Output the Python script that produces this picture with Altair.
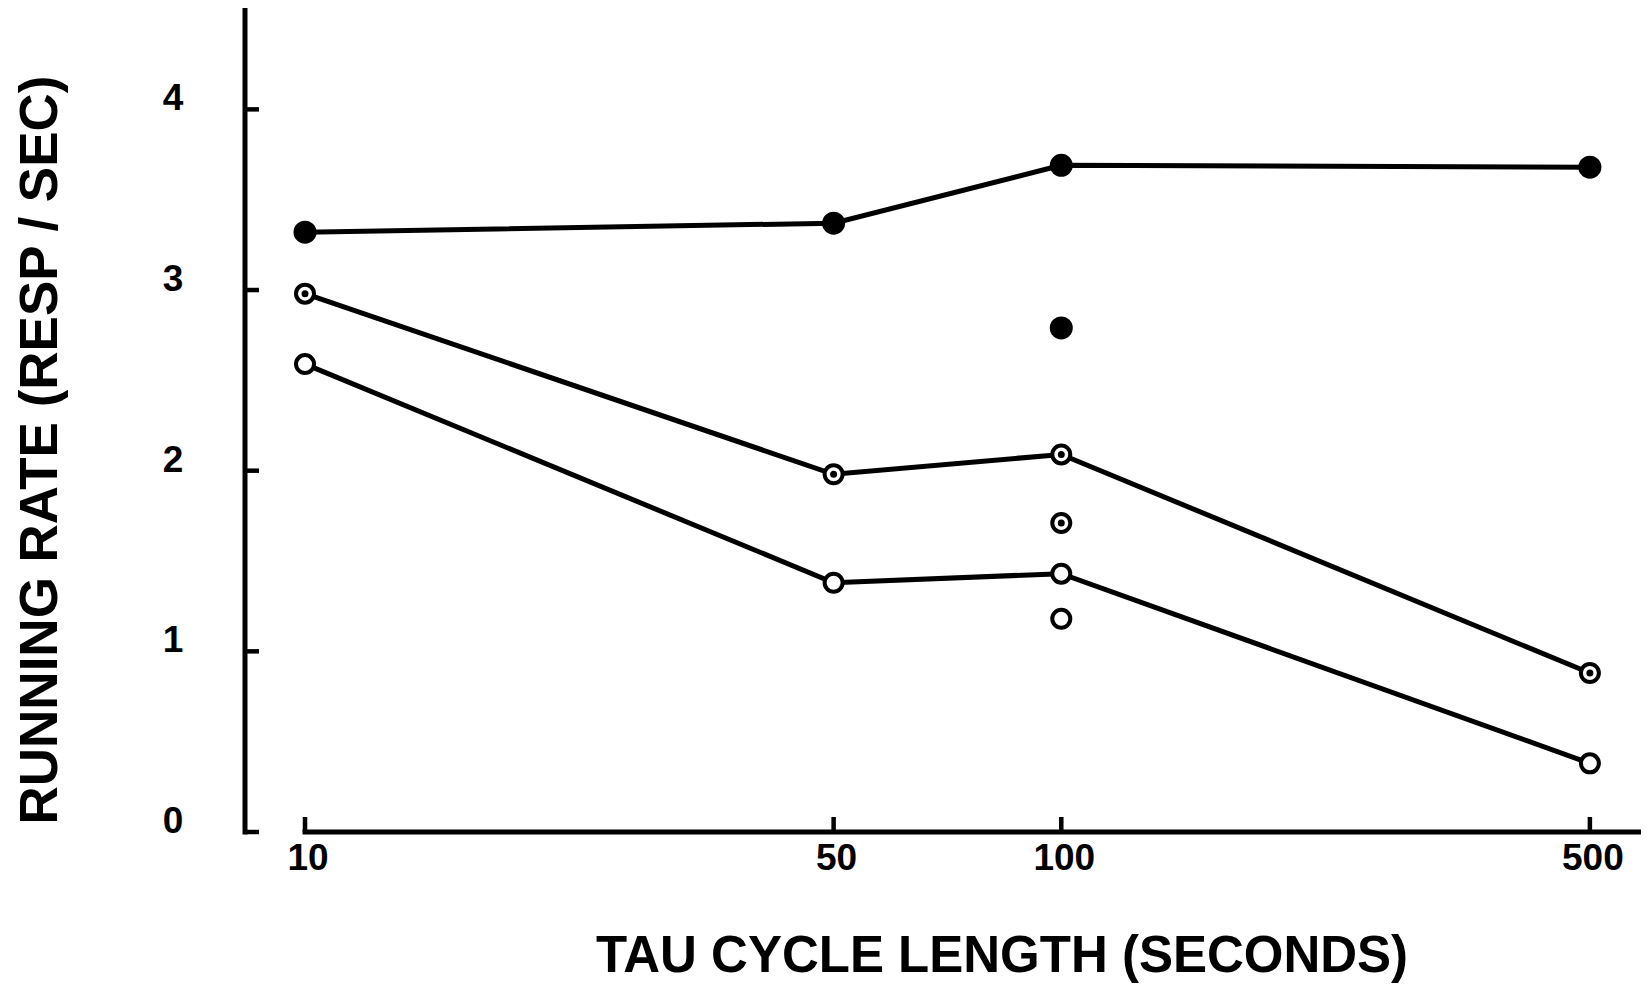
import altair as alt
import pandas as pd

# ---- data ----
x_vals = [10, 50, 100, 500]
filled_vals = [3.32, 3.37, 3.69, 3.68]
dotted_vals = [2.98, 1.98, 2.09, 0.88]
open_vals = [2.59, 1.38, 1.43, 0.38]
extra_x = [100, 100, 100]
extra_vals = [2.79, 1.71, 1.18]
extra_series = ["filled", "dotted", "open"]
y_ticks = [0, 1, 2, 3, 4]
x_ticks = [10, 50, 100, 500]
x_title = "TAU CYCLE LENGTH (SECONDS)"
y_title = "RUNNING RATE (RESP / SEC)"

W, H = 1396, 822
FONT = "Liberation Sans"

rows = []
for s, vals in [("filled", filled_vals), ("dotted", dotted_vals), ("open", open_vals)]:
    for x, v in zip(x_vals, vals):
        rows.append({"tau": x, "rate": v, "series": s})
lines_df = pd.DataFrame(rows)
extra_df = pd.DataFrame({"tau": extra_x, "rate": extra_vals, "series": extra_series})
points_df = pd.concat([lines_df, extra_df], ignore_index=True)

xs = alt.Scale(type="log", domain=[8.33, 584.2], nice=False)
ys = alt.Scale(domain=[0, 4.55], nice=False, zero=False)

X = alt.X("tau:Q", scale=xs, axis=None)
Y = alt.Y("rate:Q", scale=ys, axis=None)

lines = alt.Chart(lines_df).mark_line(color="black", strokeWidth=5).encode(
    x=X, y=Y, detail="series:N"
)

filled_pts = alt.Chart(points_df).transform_filter(
    alt.datum.series == "filled"
).mark_point(shape="circle", filled=True, color="black", size=529, opacity=1).encode(x=X, y=Y)

ring_pts = alt.Chart(points_df).transform_filter(
    alt.datum.series != "filled"
).mark_point(shape="circle", filled=True, fill="white", stroke="black",
             strokeWidth=4, size=324, opacity=1).encode(x=X, y=Y)

dot_pts = alt.Chart(points_df).transform_filter(
    alt.datum.series == "dotted"
).mark_point(shape="circle", filled=True, color="black", size=49, opacity=1).encode(x=X, y=Y)

# ---- axes drawn by hand ----
one = pd.DataFrame({"tau": [x_ticks[0]], "rate": [y_ticks[0]]})
ytick_df = pd.DataFrame({"rate": y_ticks})
xtick_df = pd.DataFrame({"tau": x_ticks})

y_axis_line = alt.Chart(one).mark_rule(color="black", strokeWidth=5, strokeCap="square").encode(
    x=alt.value(0), y=alt.Y("rate:Q", scale=ys, axis=None), y2=alt.value(0)
)
y_tick_marks = alt.Chart(ytick_df).mark_rule(color="black", strokeWidth=4.5).encode(
    y=alt.Y("rate:Q", scale=ys, axis=None), x=alt.value(0), x2=alt.value(14)
)
y_tick_labels = alt.Chart(ytick_df).mark_text(
    font=FONT, fontSize=37, fontWeight="bold", align="center", baseline="middle", dy=-10, color="black"
).encode(y=alt.Y("rate:Q", scale=ys, axis=None), x=alt.value(-72), text=alt.Text("rate:Q", format="d"))

x_axis_line = alt.Chart(one).mark_rule(color="black", strokeWidth=5, strokeCap="square").encode(
    x=alt.X("tau:Q", scale=xs, axis=None), x2=alt.value(W), y=alt.value(H)
)
x_tick_marks = alt.Chart(xtick_df).mark_rule(color="black", strokeWidth=4.5).encode(
    x=alt.X("tau:Q", scale=xs, axis=None), y=alt.value(H), y2=alt.value(H - 15)
)
x_tick_labels = alt.Chart(xtick_df).mark_text(
    font=FONT, fontSize=37, fontWeight="bold", align="center", baseline="middle", dx=3, color="black"
).encode(x=alt.X("tau:Q", scale=xs, axis=None), y=alt.value(H + 27), text=alt.Text("tau:Q", format="d"))

y_title_mark = alt.Chart(one).mark_text(
    text=y_title, font=FONT, fontSize=53, fontWeight="bold", angle=270,
    align="center", baseline="middle", color="black"
).encode(x=alt.value(-204), y=alt.value(440))

x_title_mark = alt.Chart(one).mark_text(
    text=x_title, font=FONT, fontSize=51, fontWeight="bold",
    align="center", baseline="middle", color="black"
).encode(x=alt.value(757), y=alt.value(947))

chart = alt.layer(
    y_axis_line, y_tick_marks, y_tick_labels,
    x_axis_line, x_tick_marks, x_tick_labels,
    y_title_mark, x_title_mark,
    lines, filled_pts, ring_pts, dot_pts,
).properties(
    width=W, height=H,
    autosize=alt.AutoSizeParams(type="none"),
    padding={"left": 237, "top": 2, "right": 0, "bottom": 151},
    background="white",
).configure_view(stroke=None)

chart.save("out.html", embed_options={"renderer": "svg", "actions": False})
